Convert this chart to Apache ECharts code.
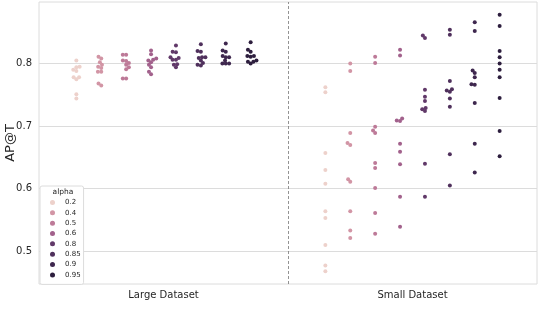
<!DOCTYPE html>
<html>
<head>
<meta charset="utf-8">
<script src="https://cdn.jsdelivr.net/npm/echarts@6/dist/echarts.min.js"></script>
<style>
  html, body { margin: 0; padding: 0; background: #fff; }
  #chart { width: 538px; height: 320px; }
</style>
</head>
<body>
<div id="chart"></div>
<script>
const categories = ['Large Dataset', 'Small Dataset'];
const alphas = ['0.2', '0.4', '0.5', '0.6', '0.8', '0.85', '0.9', '0.95'];
const yTicks = [0.5, 0.6, 0.7, 0.8];

// AP@T for each alpha (rows follow alphas)
const largeDataset = [
  [0.805, 0.795, 0.794, 0.790, 0.788, 0.778, 0.778, 0.775, 0.751, 0.744],
  [0.811, 0.808, 0.802, 0.798, 0.795, 0.793, 0.787, 0.787, 0.768, 0.765],
  [0.814, 0.814, 0.805, 0.804, 0.801, 0.798, 0.794, 0.791, 0.776, 0.776],
  [0.821, 0.815, 0.808, 0.806, 0.805, 0.802, 0.798, 0.794, 0.787, 0.783],
  [0.829, 0.819, 0.818, 0.810, 0.809, 0.806, 0.806, 0.799, 0.798, 0.794],
  [0.831, 0.820, 0.819, 0.810, 0.810, 0.809, 0.805, 0.801, 0.798, 0.797],
  [0.832, 0.821, 0.819, 0.812, 0.810, 0.810, 0.805, 0.800, 0.800, 0.800],
  [0.834, 0.822, 0.819, 0.812, 0.812, 0.811, 0.805, 0.803, 0.803, 0.800]
];
const smallDataset = [
  [0.762, 0.754, 0.657, 0.630, 0.608, 0.564, 0.553, 0.510, 0.477, 0.468],
  [0.800, 0.788, 0.689, 0.673, 0.670, 0.615, 0.611, 0.564, 0.533, 0.521],
  [0.811, 0.801, 0.699, 0.693, 0.689, 0.641, 0.633, 0.601, 0.561, 0.528],
  [0.822, 0.813, 0.712, 0.709, 0.708, 0.672, 0.659, 0.639, 0.587, 0.539],
  [0.845, 0.841, 0.758, 0.747, 0.740, 0.729, 0.727, 0.724, 0.640, 0.587],
  [0.854, 0.846, 0.772, 0.759, 0.757, 0.755, 0.744, 0.731, 0.655, 0.605],
  [0.866, 0.852, 0.789, 0.785, 0.778, 0.767, 0.766, 0.737, 0.672, 0.626],
  [0.878, 0.860, 0.820, 0.810, 0.800, 0.790, 0.778, 0.745, 0.692, 0.652]
];

// cubehelix palette, light -> dark
const palette = ['#edd1cb', '#d295a5', '#bd7a98', '#a2618c', '#613969', '#4f305c', '#3e274e', '#2d1e3e'];

const font = 'DejaVu Sans';
const dotR = 1.6; // swarm collision radius, px

var chart = echarts.init(document.getElementById('chart'));

chart.setOption({
  animation: false,
  grid: {
    left: 39, right: 1, top: 2, bottom: 36,
    outerBoundsMode: 'none',
    show: true, borderColor: '#dcdcdc', borderWidth: 1
  },
  xAxis: {
    type: 'value',
    min: -0.5,
    max: 1.5,
    axisLine: { show: false },
    axisTick: { show: false },
    splitLine: { show: false },
    axisLabel: {
      customValues: [0, 1],
      formatter: v => categories[Math.round(v)],
      margin: 6,
      fontFamily: font,
      fontSize: 10,
      color: '#262626'
    }
  },
  yAxis: {
    type: 'value',
    min: v => v.min - (v.max - v.min) * 0.05,
    max: v => v.max + (v.max - v.min) * 0.05,
    name: 'AP@T',
    nameLocation: 'middle',
    nameGap: 22,
    nameMoveOverlap: false,
    nameTextStyle: { fontFamily: font, fontSize: 13, color: '#262626' },
    axisLine: { show: false },
    axisTick: { show: false, customValues: yTicks },
    splitLine: { show: true, lineStyle: { color: '#dcdcdc', width: 1 } },
    axisLabel: {
      customValues: yTicks,
      formatter: v => v.toFixed(1),
      margin: 7,
      fontFamily: font,
      fontSize: 10,
      color: '#262626'
    }
  },
  legend: {
    orient: 'vertical',
    left: 40,
    top: 186,
    padding: [11.5, 3, 4.5, 10],
    backgroundColor: '#fff',
    borderColor: '#dcdcdc',
    borderWidth: 1,
    borderRadius: 2,
    itemWidth: 5,
    itemHeight: 5,
    itemGap: 0.34,
    icon: 'circle',
    selectedMode: false,
    textStyle: { fontFamily: font, fontSize: 7, lineHeight: 10, color: '#262626', padding: [0, 0, 0, 5] },
    data: alphas
  },
  graphic: [{
    type: 'text',
    z: 100,
    style: { text: 'alpha', x: 63, y: 192, align: 'center', verticalAlign: 'middle', fontFamily: font, fontSize: 7.5, fill: '#262626' }
  }],
  series: alphas.map((a, i) => ({
    name: a,
    type: 'scatter',
    symbolSize: 4,
    itemStyle: { color: palette[i], opacity: 1 },
    data: largeDataset[i].concat(smallDataset[i]).map(v => [0, v])
  }))
});

// seaborn-like beeswarm placement in pixel space
function swarm(center, vals) {
  var sorted = vals.slice().sort((a, b) => a - b);
  var placed = [];
  sorted.forEach(v => {
    var p = chart.convertToPixel({ gridIndex: 0 }, [center, v]);
    var x0 = p[0], y = p[1];
    var nb = placed.filter(q => Math.abs(q[1] - y) < 2 * dotR);
    var cands = [x0];
    var leftFirst = true;
    nb.forEach(q => {
      var dy = y - q[1];
      var dx = Math.sqrt(Math.max(4 * dotR * dotR - dy * dy, 0)) * 1.05;
      if (leftFirst) cands.push(q[0] - dx, q[0] + dx);
      else cands.push(q[0] + dx, q[0] - dx);
      leftFirst = !leftFirst;
    });
    cands = cands.map((c, k) => [c, k])
      .sort((a, b) => (Math.abs(a[0] - x0) - Math.abs(b[0] - x0)) || (a[1] - b[1]))
      .map(c => c[0]);
    var x = cands.find(c => nb.every(q => Math.hypot(c - q[0], y - q[1]) >= 2 * dotR - 1e-6));
    placed.push([x, y, v]);
  });
  return placed.map(q => [chart.convertFromPixel({ xAxisIndex: 0 }, q[0]), q[2]]);
}

var series = alphas.map((a, i) => {
  var data = [];
  [largeDataset[i], smallDataset[i]].forEach((vals, c) => {
    var center = c + (i - 3.5) * 0.1;
    data = data.concat(swarm(center, vals));
  });
  var s = { name: a, data: data };
  if (i === 0) {
    s.markLine = {
      silent: true,
      symbol: 'none',
      label: { show: false },
      lineStyle: { color: '#777', type: [3, 2], width: 0.8 },
      data: [{ xAxis: 0.5 }]
    };
  }
  return s;
});
chart.setOption({ series: series });

window.addEventListener('resize', () => {
  if (chart) chart.resize();
});
</script>
</body>
</html>
